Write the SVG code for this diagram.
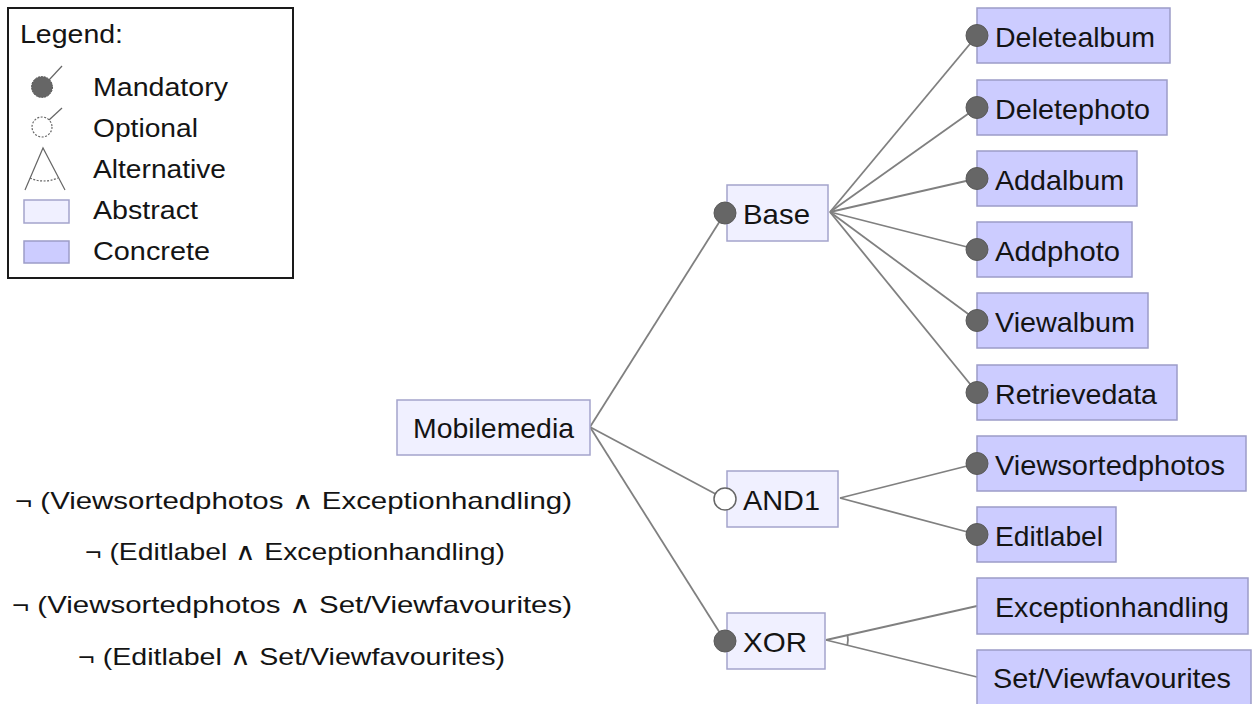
<svg xmlns="http://www.w3.org/2000/svg" width="1253" height="704" viewBox="0 0 1253 704">
<style>
text{font-family:"Liberation Sans",Arial,sans-serif;fill:#141414}
.lg{font-size:25px}
.nt{font-size:28px}
.ct{font-size:24px}
.abs{fill:#f0f0ff;stroke:#a4a4cc;stroke-width:1.5}
.con{fill:#ccccff;stroke:#9c9cc8;stroke-width:1.5}
.mand{fill:#666666;stroke:#5a5a5a;stroke-width:1}
.opt{fill:#ffffff;stroke:#666666;stroke-width:1.5}
.ln{stroke:#808080;stroke-width:1.8;fill:none}
</style>
<rect width="1253" height="704" fill="#ffffff"/>
<g id="legend">
<rect x="8" y="8" width="285" height="270" fill="#ffffff" stroke="#1a1a1a" stroke-width="2"/>
<text class="lg" x="20" y="43" textLength="103" lengthAdjust="spacingAndGlyphs">Legend:</text>
<circle cx="42" cy="87" r="10.5" fill="#666666" stroke="#555" stroke-width="1" stroke-dasharray="2 1"/>
<line x1="49" y1="80" x2="62" y2="66" stroke="#666" stroke-width="1.2"/>
<text class="lg" x="93" y="96" textLength="135" lengthAdjust="spacingAndGlyphs">Mandatory</text>
<circle cx="42" cy="127" r="10" fill="#ffffff" stroke="#666" stroke-width="1.2" stroke-dasharray="2 1.5"/>
<line x1="49" y1="120" x2="62" y2="108" stroke="#666" stroke-width="1.2"/>
<text class="lg" x="93" y="137" textLength="105" lengthAdjust="spacingAndGlyphs">Optional</text>
<path d="M25,190 L43,148 L65,190" fill="none" stroke="#666" stroke-width="1.2"/>
<path d="M30,178 Q43,184 58,178" fill="none" stroke="#666" stroke-width="1.2" stroke-dasharray="2 1.5"/>
<text class="lg" x="93" y="178" textLength="133" lengthAdjust="spacingAndGlyphs">Alternative</text>
<rect class="abs" x="24" y="200" width="45" height="23"/>
<text class="lg" x="93" y="219" textLength="105" lengthAdjust="spacingAndGlyphs">Abstract</text>
<rect class="con" x="24" y="241" width="45" height="22"/>
<text class="lg" x="93" y="260" textLength="117" lengthAdjust="spacingAndGlyphs">Concrete</text>
</g>
<g id="connectors">
<line class="ln" x1="590" y1="427" x2="725" y2="213"/>
<line class="ln" x1="590" y1="427" x2="725" y2="499"/>
<line class="ln" x1="590" y1="427" x2="725" y2="641"/>
<line class="ln" x1="830" y1="212" x2="977" y2="35.5"/>
<line class="ln" x1="830" y1="212" x2="977" y2="107.5"/>
<line class="ln" x1="830" y1="212" x2="977" y2="178.5"/>
<line class="ln" x1="830" y1="212" x2="977" y2="249.5"/>
<line class="ln" x1="830" y1="212" x2="977" y2="320.5"/>
<line class="ln" x1="830" y1="212" x2="977" y2="392.5"/>
<line class="ln" x1="840" y1="498" x2="977" y2="463.5"/>
<line class="ln" x1="840" y1="498" x2="977" y2="534.5"/>
<line class="ln" x1="826" y1="640" x2="977" y2="606"/>
<line class="ln" x1="826" y1="640" x2="977" y2="677"/>
<path class="ln" d="M847.5,635.2 A22,22 0 0 1 847.3,645.4"/>
</g>
<g id="node-mobilemedia">
<rect class="abs" x="397" y="400" width="193" height="55"/>
<text class="nt" x="413" y="438" textLength="161" lengthAdjust="spacingAndGlyphs">Mobilemedia</text>
</g>
<g id="node-base">
<rect class="abs" x="727" y="185" width="101" height="56"/>
<circle class="mand" cx="725" cy="213" r="11"/>
<text class="nt" x="743" y="224" textLength="67" lengthAdjust="spacingAndGlyphs">Base</text>
</g>
<g id="node-and1">
<rect class="abs" x="727" y="471" width="111" height="56"/>
<circle class="opt" cx="725" cy="499" r="11"/>
<text class="nt" x="743" y="510" textLength="77" lengthAdjust="spacingAndGlyphs">AND1</text>
</g>
<g id="node-xor">
<rect class="abs" x="727" y="613" width="98" height="56"/>
<circle class="mand" cx="725" cy="641" r="11"/>
<text class="nt" x="743" y="652" textLength="64" lengthAdjust="spacingAndGlyphs">XOR</text>
</g>
<g id="node-deletealbum">
<rect class="con" x="977" y="8" width="193" height="55"/>
<circle class="mand" cx="977" cy="35.5" r="11"/>
<text class="nt" x="995" y="46.5" textLength="160" lengthAdjust="spacingAndGlyphs">Deletealbum</text>
</g>
<g id="node-deletephoto">
<rect class="con" x="977" y="80" width="190" height="55"/>
<circle class="mand" cx="977" cy="107.5" r="11"/>
<text class="nt" x="995" y="118.5" textLength="155" lengthAdjust="spacingAndGlyphs">Deletephoto</text>
</g>
<g id="node-addalbum">
<rect class="con" x="977" y="151" width="160" height="55"/>
<circle class="mand" cx="977" cy="178.5" r="11"/>
<text class="nt" x="995" y="189.5" textLength="129" lengthAdjust="spacingAndGlyphs">Addalbum</text>
</g>
<g id="node-addphoto">
<rect class="con" x="977" y="222" width="155" height="55"/>
<circle class="mand" cx="977" cy="249.5" r="11"/>
<text class="nt" x="995" y="260.5" textLength="125" lengthAdjust="spacingAndGlyphs">Addphoto</text>
</g>
<g id="node-viewalbum">
<rect class="con" x="977" y="293" width="171" height="55"/>
<circle class="mand" cx="977" cy="320.5" r="11"/>
<text class="nt" x="995" y="331.5" textLength="140" lengthAdjust="spacingAndGlyphs">Viewalbum</text>
</g>
<g id="node-retrievedata">
<rect class="con" x="977" y="365" width="200" height="55"/>
<circle class="mand" cx="977" cy="392.5" r="11"/>
<text class="nt" x="995" y="403.5" textLength="162" lengthAdjust="spacingAndGlyphs">Retrievedata</text>
</g>
<g id="node-viewsortedphotos">
<rect class="con" x="977" y="436" width="269" height="55"/>
<circle class="mand" cx="977" cy="463.5" r="11"/>
<text class="nt" x="995" y="474.5" textLength="230" lengthAdjust="spacingAndGlyphs">Viewsortedphotos</text>
</g>
<g id="node-editlabel">
<rect class="con" x="977" y="507" width="139" height="55"/>
<circle class="mand" cx="977" cy="534.5" r="11"/>
<text class="nt" x="995" y="545.5" textLength="108" lengthAdjust="spacingAndGlyphs">Editlabel</text>
</g>
<g id="node-exceptionhandling">
<rect class="con" x="977" y="578" width="271" height="56"/>
<text class="nt" x="995" y="617" textLength="234" lengthAdjust="spacingAndGlyphs">Exceptionhandling</text>
</g>
<g id="node-setviewfavourites">
<rect class="con" x="977" y="650" width="274" height="55"/>
<text class="nt" x="993" y="688" textLength="238" lengthAdjust="spacingAndGlyphs">Set/Viewfavourites</text>
</g>
<g id="constraints">
<text class="ct" x="15" y="509" textLength="557" lengthAdjust="spacingAndGlyphs">¬ (Viewsortedphotos ∧ Exceptionhandling)</text>
<text class="ct" x="85" y="560" textLength="420" lengthAdjust="spacingAndGlyphs">¬ (Editlabel ∧ Exceptionhandling)</text>
<text class="ct" x="12" y="613" textLength="560" lengthAdjust="spacingAndGlyphs">¬ (Viewsortedphotos ∧ Set/Viewfavourites)</text>
<text class="ct" x="78" y="665" textLength="427" lengthAdjust="spacingAndGlyphs">¬ (Editlabel ∧ Set/Viewfavourites)</text>
</g>
</svg>
